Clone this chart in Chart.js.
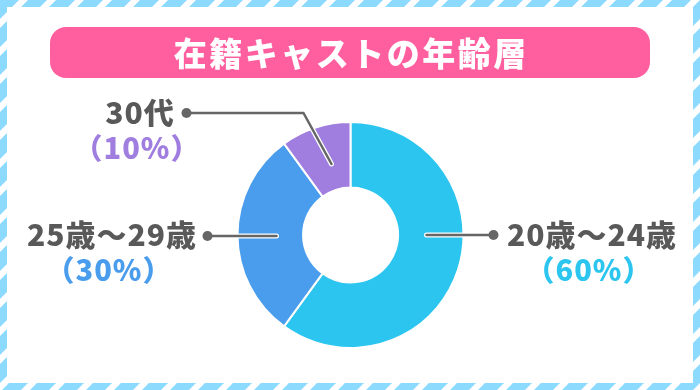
<!DOCTYPE html>
<html><head><meta charset="utf-8">
<script src="https://cdn.jsdelivr.net/npm/chart.js@4"></script>
<style>html,body{margin:0;padding:0;background:#fff;}#wrap{width:700px;height:390px;}</style>
</head><body><div id="wrap"><canvas id="c" width="700" height="390"></canvas></div>
<script>
const TITLE = '在籍キャストの年齢層';
const categories = ['20歳～24歳', '25歳～29歳', '30代'];
const values = [60, 30, 10];
const percentLabels = ['（60%）', '（30%）', '（10%）'];
const sliceColors = ['#2bc5ef', '#4a9cec', '#a07ee0'];

const FONT = '"Noto Sans CJK JP", "Noto Sans", sans-serif';

function spacedText(ctx, text, x, y, spacing) {
  if ('letterSpacing' in ctx) {
    ctx.letterSpacing = spacing + 'px';
    const w = ctx.measureText(text).width - spacing;
    ctx.textAlign = 'left';
    ctx.fillText(text, x - w / 2, y);
    ctx.letterSpacing = '0px';
  } else {
    ctx.textAlign = 'center';
    ctx.fillText(text, x, y);
  }
}

const decor = {
  id: 'decor',
  beforeDraw(chart) {
    const ctx = chart.ctx, W = chart.width, H = chart.height;
    ctx.save();
    ctx.fillStyle = '#fff';
    ctx.fillRect(0, 0, W, H);
    ctx.beginPath();
    ctx.rect(0, 0, W, H);
    ctx.rect(7, 7, W - 14, H - 14);
    ctx.clip('evenodd');
    ctx.fillStyle = '#8cdbff';
    for (let x = -H; x < W + H; x += 28) {
      ctx.beginPath();
      ctx.moveTo(x, H);
      ctx.lineTo(x + 19, H);
      ctx.lineTo(x + 19 + H, 0);
      ctx.lineTo(x + H, 0);
      ctx.closePath();
      ctx.fill();
    }
    ctx.restore();
    ctx.save();
    ctx.fillStyle = '#ff5f9e';
    ctx.beginPath();
    ctx.roundRect(50, 27, 600, 51, 16);
    ctx.fill();
    ctx.fillStyle = '#fff';
    ctx.font = '900 33px ' + FONT;
    ctx.textBaseline = 'middle';
    spacedText(ctx, TITLE, 350, 53, 2.5);
    ctx.restore();
  },
  afterDraw(chart) {
    const ctx = chart.ctx;
    const arc = chart.getDatasetMeta(0).data[0];
    const cx = arc.x, cy = arc.y;
    const leaders = [
      { pts: [[cx + 76, cy], [cx + 143, cy]], dot: [cx + 143, cy], tx: cx + 241, ty: cy },
      { pts: [[cx - 74, cy + 1], [cx - 143, cy + 1]], dot: [cx - 143, cy + 1], tx: cx - 239, ty: cy },
      { pts: [[cx - 19, cy - 71], [cx - 47, cy - 122], [cx - 164, cy - 122]], dot: [cx - 164, cy - 122], tx: cx - 211, ty: cy - 122 }
    ];
    ctx.save();
    ctx.lineJoin = 'round';
    ctx.lineCap = 'round';
    leaders.forEach((l, i) => {
      ctx.beginPath();
      l.pts.forEach((p, j) => j ? ctx.lineTo(p[0], p[1]) : ctx.moveTo(p[0], p[1]));
      ctx.strokeStyle = '#fff';
      ctx.lineWidth = 5;
      ctx.stroke();
      ctx.strokeStyle = '#666';
      ctx.lineWidth = 2.5;
      ctx.stroke();
      ctx.beginPath();
      ctx.arc(l.dot[0], l.dot[1], 5, 0, Math.PI * 2);
      ctx.fillStyle = '#666';
      ctx.fill();
      ctx.textBaseline = 'middle';
      ctx.fillStyle = '#595959';
      ctx.font = '900 30px ' + FONT;
      spacedText(ctx, categories[i], l.tx, l.ty, 1);
      ctx.fillStyle = sliceColors[i];
      ctx.font = '900 29px ' + FONT;
      spacedText(ctx, percentLabels[i], l.tx - 3, l.ty + 35, 1);
    });
    ctx.restore();
  }
};

new Chart(document.getElementById('c'), {
  type: 'doughnut',
  data: {
    labels: categories,
    datasets: [{
      data: values,
      backgroundColor: sliceColors,
      borderColor: '#fff',
      borderWidth: 2,
      hoverOffset: 0
    }]
  },
  options: {
    responsive: false,
    animation: false,
    cutout: '42%',
    layout: { padding: { top: 121, bottom: 41, left: 236, right: 235 } },
    plugins: { legend: { display: false }, tooltip: { enabled: false } },
    events: []
  },
  plugins: [decor]
});
</script>
</body></html>
